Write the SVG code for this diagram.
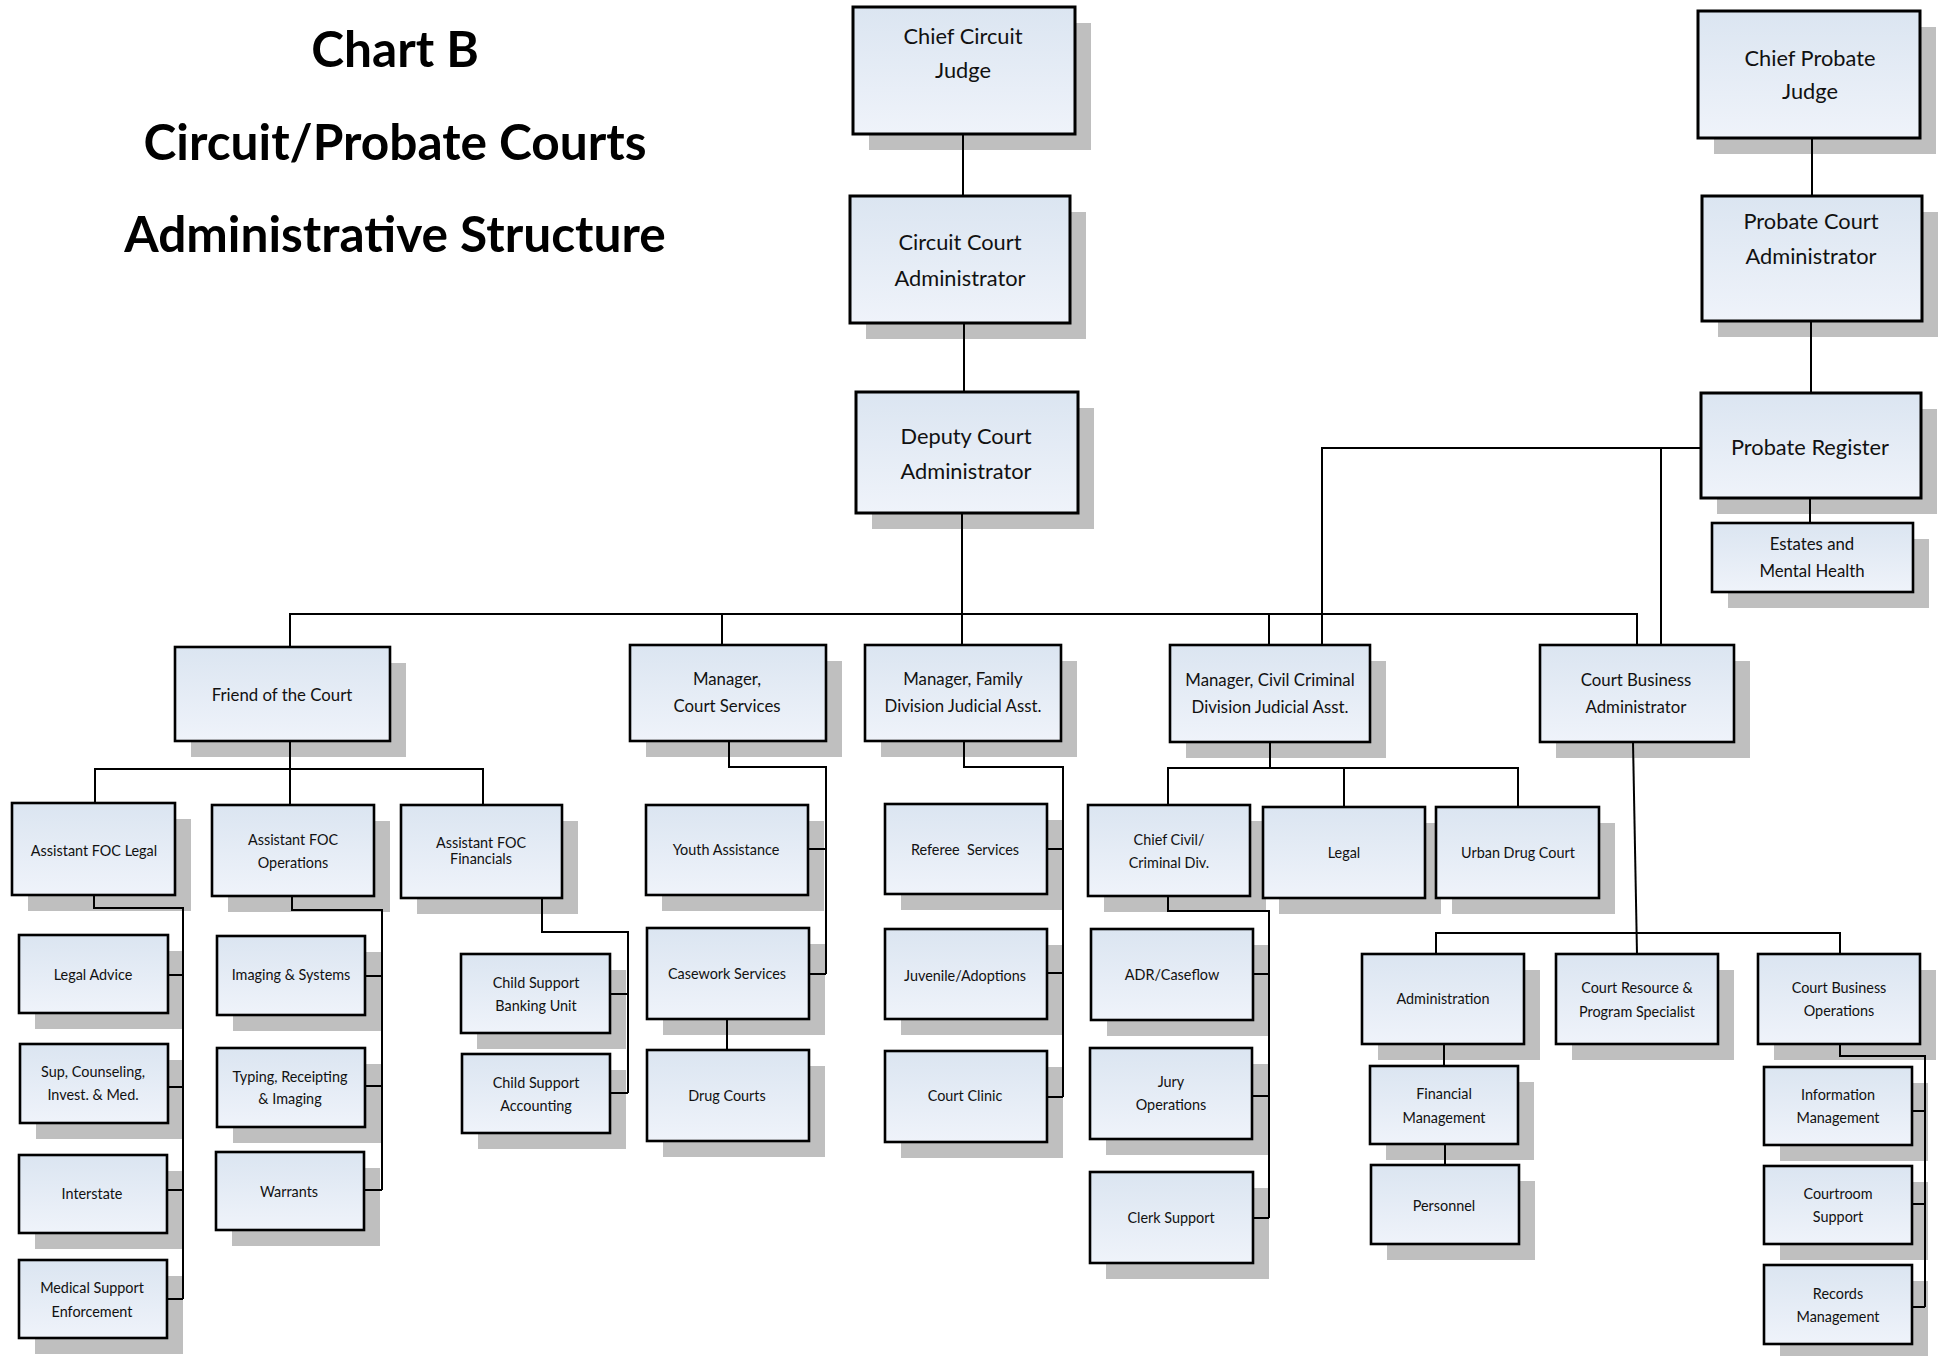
<svg xmlns="http://www.w3.org/2000/svg" width="1946" height="1356" viewBox="0 0 1946 1356">
<defs>
<linearGradient id="g" x1="0" y1="0" x2="0" y2="1">
<stop offset="0" stop-color="#dbe5f1"/>
<stop offset="1" stop-color="#eff3fa"/>
</linearGradient>
<style>
.sh{fill:#bfbfbf}
.bx{fill:url(#g);stroke:#000;stroke-width:2.6}
.bt{fill:url(#g);stroke:#000;stroke-width:3}
text{font-family:Lato,"Liberation Sans",sans-serif;fill:#111;text-anchor:middle}
.t1{font-size:21.8px}
.t2{font-size:16.8px}
.t3{font-size:14.4px}
.ti{font-size:49.6px;font-weight:bold;fill:#000}
.c{stroke:#000;stroke-width:2;fill:none}
</style>
</defs>
<rect width="1946" height="1356" fill="#fff"/>
<g id="title">
<text class="ti" x="395" y="67">Chart B</text>
<text class="ti" x="395" y="160">Circuit/Probate Courts</text>
<text class="ti" x="395" y="252">Administrative Structure</text>
</g>
<g id="cj"><rect class="sh" x="869" y="23" width="222" height="127"/><rect class="bt" x="853" y="7" width="222" height="127"/><text class="t1" x="963" y="44">Chief Circuit</text><text class="t1" x="963" y="78">Judge</text></g>
<g id="cca"><rect class="sh" x="866" y="212" width="220" height="127"/><rect class="bt" x="850" y="196" width="220" height="127"/><text class="t1" x="960" y="250">Circuit Court</text><text class="t1" x="960" y="286">Administrator</text></g>
<g id="dca"><rect class="sh" x="872" y="408" width="222" height="121"/><rect class="bt" x="856" y="392" width="222" height="121"/><text class="t1" x="966" y="444">Deputy Court</text><text class="t1" x="966" y="479">Administrator</text></g>
<g id="cpj"><rect class="sh" x="1714" y="27" width="222" height="127"/><rect class="bt" x="1698" y="11" width="222" height="127"/><text class="t1" x="1810" y="66">Chief Probate</text><text class="t1" x="1810" y="99">Judge</text></g>
<g id="pca"><rect class="sh" x="1718" y="212" width="220" height="125"/><rect class="bt" x="1702" y="196" width="220" height="125"/><text class="t1" x="1811" y="229">Probate Court</text><text class="t1" x="1811" y="264">Administrator</text></g>
<g id="pr"><rect class="sh" x="1717" y="409" width="220" height="105"/><rect class="bt" x="1701" y="393" width="220" height="105"/><text class="t1" x="1810" y="455">Probate Register</text></g>
<g id="emh"><rect class="sh" x="1728" y="539" width="201" height="69"/><rect class="bx" x="1712" y="523" width="201" height="69"/><text class="t2" x="1812" y="550">Estates and</text><text class="t2" x="1812" y="577">Mental Health</text></g>
<g id="foc"><rect class="sh" x="191" y="663" width="215" height="94"/><rect class="bx" x="175" y="647" width="215" height="94"/><text class="t2" x="282" y="701">Friend of the Court</text></g>
<g id="mcs"><rect class="sh" x="646" y="661" width="196" height="96"/><rect class="bx" x="630" y="645" width="196" height="96"/><text class="t2" x="727" y="685">Manager,</text><text class="t2" x="727" y="712">Court Services</text></g>
<g id="mfd"><rect class="sh" x="881" y="661" width="196" height="96"/><rect class="bx" x="865" y="645" width="196" height="96"/><text class="t2" x="963" y="685">Manager, Family</text><text class="t2" x="963" y="712">Division Judicial Asst.</text></g>
<g id="mcc"><rect class="sh" x="1186" y="661" width="200" height="97"/><rect class="bx" x="1170" y="645" width="200" height="97"/><text class="t2" x="1270" y="686">Manager, Civil Criminal</text><text class="t2" x="1270" y="713">Division Judicial Asst.</text></g>
<g id="cba"><rect class="sh" x="1556" y="661" width="194" height="97"/><rect class="bx" x="1540" y="645" width="194" height="97"/><text class="t2" x="1636" y="686">Court Business</text><text class="t2" x="1636" y="713">Administrator</text></g>
<g id="afl"><rect class="sh" x="28" y="819" width="163" height="92"/><rect class="bx" x="12" y="803" width="163" height="92"/><text class="t3" x="94" y="856">Assistant FOC Legal</text></g>
<g id="afo"><rect class="sh" x="228" y="821" width="162" height="91"/><rect class="bx" x="212" y="805" width="162" height="91"/><text class="t3" x="293" y="845">Assistant FOC</text><text class="t3" x="293" y="868">Operations</text></g>
<g id="aff"><rect class="sh" x="417" y="821" width="161" height="93"/><rect class="bx" x="401" y="805" width="161" height="93"/><text class="t3" x="481" y="848">Assistant FOC</text><text class="t3" x="481" y="864">Financials</text></g>
<g id="la"><rect class="sh" x="35" y="951" width="149" height="78"/><rect class="bx" x="19" y="935" width="149" height="78"/><text class="t3" x="93" y="980">Legal Advice</text></g>
<g id="sci"><rect class="sh" x="36" y="1060" width="148" height="79"/><rect class="bx" x="20" y="1044" width="148" height="79"/><text class="t3" x="93" y="1077">Sup, Counseling,</text><text class="t3" x="93" y="1100">Invest. &amp; Med.</text></g>
<g id="inter"><rect class="sh" x="35" y="1171" width="148" height="78"/><rect class="bx" x="19" y="1155" width="148" height="78"/><text class="t3" x="92" y="1199">Interstate</text></g>
<g id="mse"><rect class="sh" x="35" y="1276" width="148" height="78"/><rect class="bx" x="19" y="1260" width="148" height="78"/><text class="t3" x="92" y="1293">Medical Support</text><text class="t3" x="92" y="1317">Enforcement</text></g>
<g id="ims"><rect class="sh" x="233" y="952" width="148" height="79"/><rect class="bx" x="217" y="936" width="148" height="79"/><text class="t3" x="291" y="980">Imaging &amp; Systems</text></g>
<g id="tri"><rect class="sh" x="233" y="1064" width="148" height="79"/><rect class="bx" x="217" y="1048" width="148" height="79"/><text class="t3" x="290" y="1082">Typing, Receipting</text><text class="t3" x="290" y="1104">&amp; Imaging</text></g>
<g id="war"><rect class="sh" x="232" y="1168" width="148" height="78"/><rect class="bx" x="216" y="1152" width="148" height="78"/><text class="t3" x="289" y="1197">Warrants</text></g>
<g id="csb"><rect class="sh" x="477" y="970" width="149" height="79"/><rect class="bx" x="461" y="954" width="149" height="79"/><text class="t3" x="536" y="988">Child Support</text><text class="t3" x="536" y="1011">Banking Unit</text></g>
<g id="csa"><rect class="sh" x="478" y="1070" width="148" height="79"/><rect class="bx" x="462" y="1054" width="148" height="79"/><text class="t3" x="536" y="1088">Child Support</text><text class="t3" x="536" y="1111">Accounting</text></g>
<g id="ya"><rect class="sh" x="662" y="821" width="162" height="90"/><rect class="bx" x="646" y="805" width="162" height="90"/><text class="t3" x="726" y="855">Youth Assistance</text></g>
<g id="cws"><rect class="sh" x="663" y="944" width="162" height="91"/><rect class="bx" x="647" y="928" width="162" height="91"/><text class="t3" x="727" y="979">Casework Services</text></g>
<g id="dc"><rect class="sh" x="663" y="1066" width="162" height="91"/><rect class="bx" x="647" y="1050" width="162" height="91"/><text class="t3" x="727" y="1101">Drug Courts</text></g>
<g id="rs"><rect class="sh" x="901" y="820" width="162" height="90"/><rect class="bx" x="885" y="804" width="162" height="90"/><text class="t3" x="965" y="855" xml:space="preserve">Referee  Services</text></g>
<g id="ja"><rect class="sh" x="901" y="945" width="162" height="90"/><rect class="bx" x="885" y="929" width="162" height="90"/><text class="t3" x="965" y="981">Juvenile/Adoptions</text></g>
<g id="cc"><rect class="sh" x="901" y="1067" width="162" height="91"/><rect class="bx" x="885" y="1051" width="162" height="91"/><text class="t3" x="965" y="1101">Court Clinic</text></g>
<g id="ccd"><rect class="sh" x="1104" y="821" width="162" height="91"/><rect class="bx" x="1088" y="805" width="162" height="91"/><text class="t3" x="1169" y="845">Chief Civil/</text><text class="t3" x="1169" y="868">Criminal Div.</text></g>
<g id="leg"><rect class="sh" x="1279" y="823" width="162" height="91"/><rect class="bx" x="1263" y="807" width="162" height="91"/><text class="t3" x="1344" y="858">Legal</text></g>
<g id="udc"><rect class="sh" x="1452" y="823" width="163" height="91"/><rect class="bx" x="1436" y="807" width="163" height="91"/><text class="t3" x="1518" y="858">Urban Drug Court</text></g>
<g id="adr"><rect class="sh" x="1107" y="945" width="162" height="91"/><rect class="bx" x="1091" y="929" width="162" height="91"/><text class="t3" x="1172" y="980">ADR/Caseflow</text></g>
<g id="jo"><rect class="sh" x="1106" y="1064" width="162" height="91"/><rect class="bx" x="1090" y="1048" width="162" height="91"/><text class="t3" x="1171" y="1087">Jury</text><text class="t3" x="1171" y="1110">Operations</text></g>
<g id="cs"><rect class="sh" x="1106" y="1188" width="163" height="91"/><rect class="bx" x="1090" y="1172" width="163" height="91"/><text class="t3" x="1171" y="1223">Clerk Support</text></g>
<g id="adm"><rect class="sh" x="1378" y="970" width="162" height="90"/><rect class="bx" x="1362" y="954" width="162" height="90"/><text class="t3" x="1443" y="1004">Administration</text></g>
<g id="fm"><rect class="sh" x="1386" y="1082" width="148" height="78"/><rect class="bx" x="1370" y="1066" width="148" height="78"/><text class="t3" x="1444" y="1099">Financial</text><text class="t3" x="1444" y="1123">Management</text></g>
<g id="per"><rect class="sh" x="1387" y="1181" width="148" height="79"/><rect class="bx" x="1371" y="1165" width="148" height="79"/><text class="t3" x="1444" y="1211">Personnel</text></g>
<g id="crp"><rect class="sh" x="1572" y="970" width="162" height="90"/><rect class="bx" x="1556" y="954" width="162" height="90"/><text class="t3" x="1637" y="993">Court Resource &amp;</text><text class="t3" x="1637" y="1017">Program Specialist</text></g>
<g id="cbo"><rect class="sh" x="1774" y="970" width="162" height="90"/><rect class="bx" x="1758" y="954" width="162" height="90"/><text class="t3" x="1839" y="993">Court Business</text><text class="t3" x="1839" y="1016">Operations</text></g>
<g id="im"><rect class="sh" x="1780" y="1083" width="148" height="78"/><rect class="bx" x="1764" y="1067" width="148" height="78"/><text class="t3" x="1838" y="1100">Information</text><text class="t3" x="1838" y="1123">Management</text></g>
<g id="crs"><rect class="sh" x="1780" y="1182" width="148" height="78"/><rect class="bx" x="1764" y="1166" width="148" height="78"/><text class="t3" x="1838" y="1199">Courtroom</text><text class="t3" x="1838" y="1222">Support</text></g>
<g id="rm"><rect class="sh" x="1780" y="1281" width="148" height="79"/><rect class="bx" x="1764" y="1265" width="148" height="79"/><text class="t3" x="1838" y="1299">Records</text><text class="t3" x="1838" y="1322">Management</text></g>
<g id="connectors" class="c">
<path d="M963,134V196"/>
<path d="M964,323V392"/>
<path d="M962,513V645"/>
<path d="M290,647V614H1637V645"/>
<path d="M722,614V645"/>
<path d="M1269,614V645"/>
<path d="M1812,138V196"/>
<path d="M1811,321V393"/>
<path d="M1810,498V523"/>
<path d="M1701,448H1322V645"/>
<path d="M1661,448V645"/>
<path d="M290,741V805"/>
<path d="M95,803V769H483V805"/>
<path d="M94,895V908H183V1299"/>
<path d="M168,975H183M168,1087H183M167,1190H183M167,1299H183"/>
<path d="M292,896V910H382V1190"/>
<path d="M365,976H382M365,1086H382M364,1190H382"/>
<path d="M542,898V932H628V1093"/>
<path d="M610,994H628M610,1093H628"/>
<path d="M729,741V767H826V974"/>
<path d="M808,849H826M809,974H826"/>
<path d="M727,1019V1050"/>
<path d="M964,741V767H1063V1097"/>
<path d="M1047,849H1063M1047,973H1063M1047,1097H1063"/>
<path d="M1270,742V768"/>
<path d="M1168,805V768H1518V807"/>
<path d="M1344,768V807"/>
<path d="M1168,896V911H1269V1218"/>
<path d="M1253,974H1269M1252,1096H1269M1253,1218H1269"/>
<path d="M1633,742L1637,954"/>
<path d="M1436,954V933H1840V954"/>
<path d="M1444,1044V1066"/>
<path d="M1445,1144V1165"/>
<path d="M1840,1044V1056H1925V1307"/>
<path d="M1912,1111H1925M1912,1204H1925M1912,1307H1925"/>
</g>
</svg>
